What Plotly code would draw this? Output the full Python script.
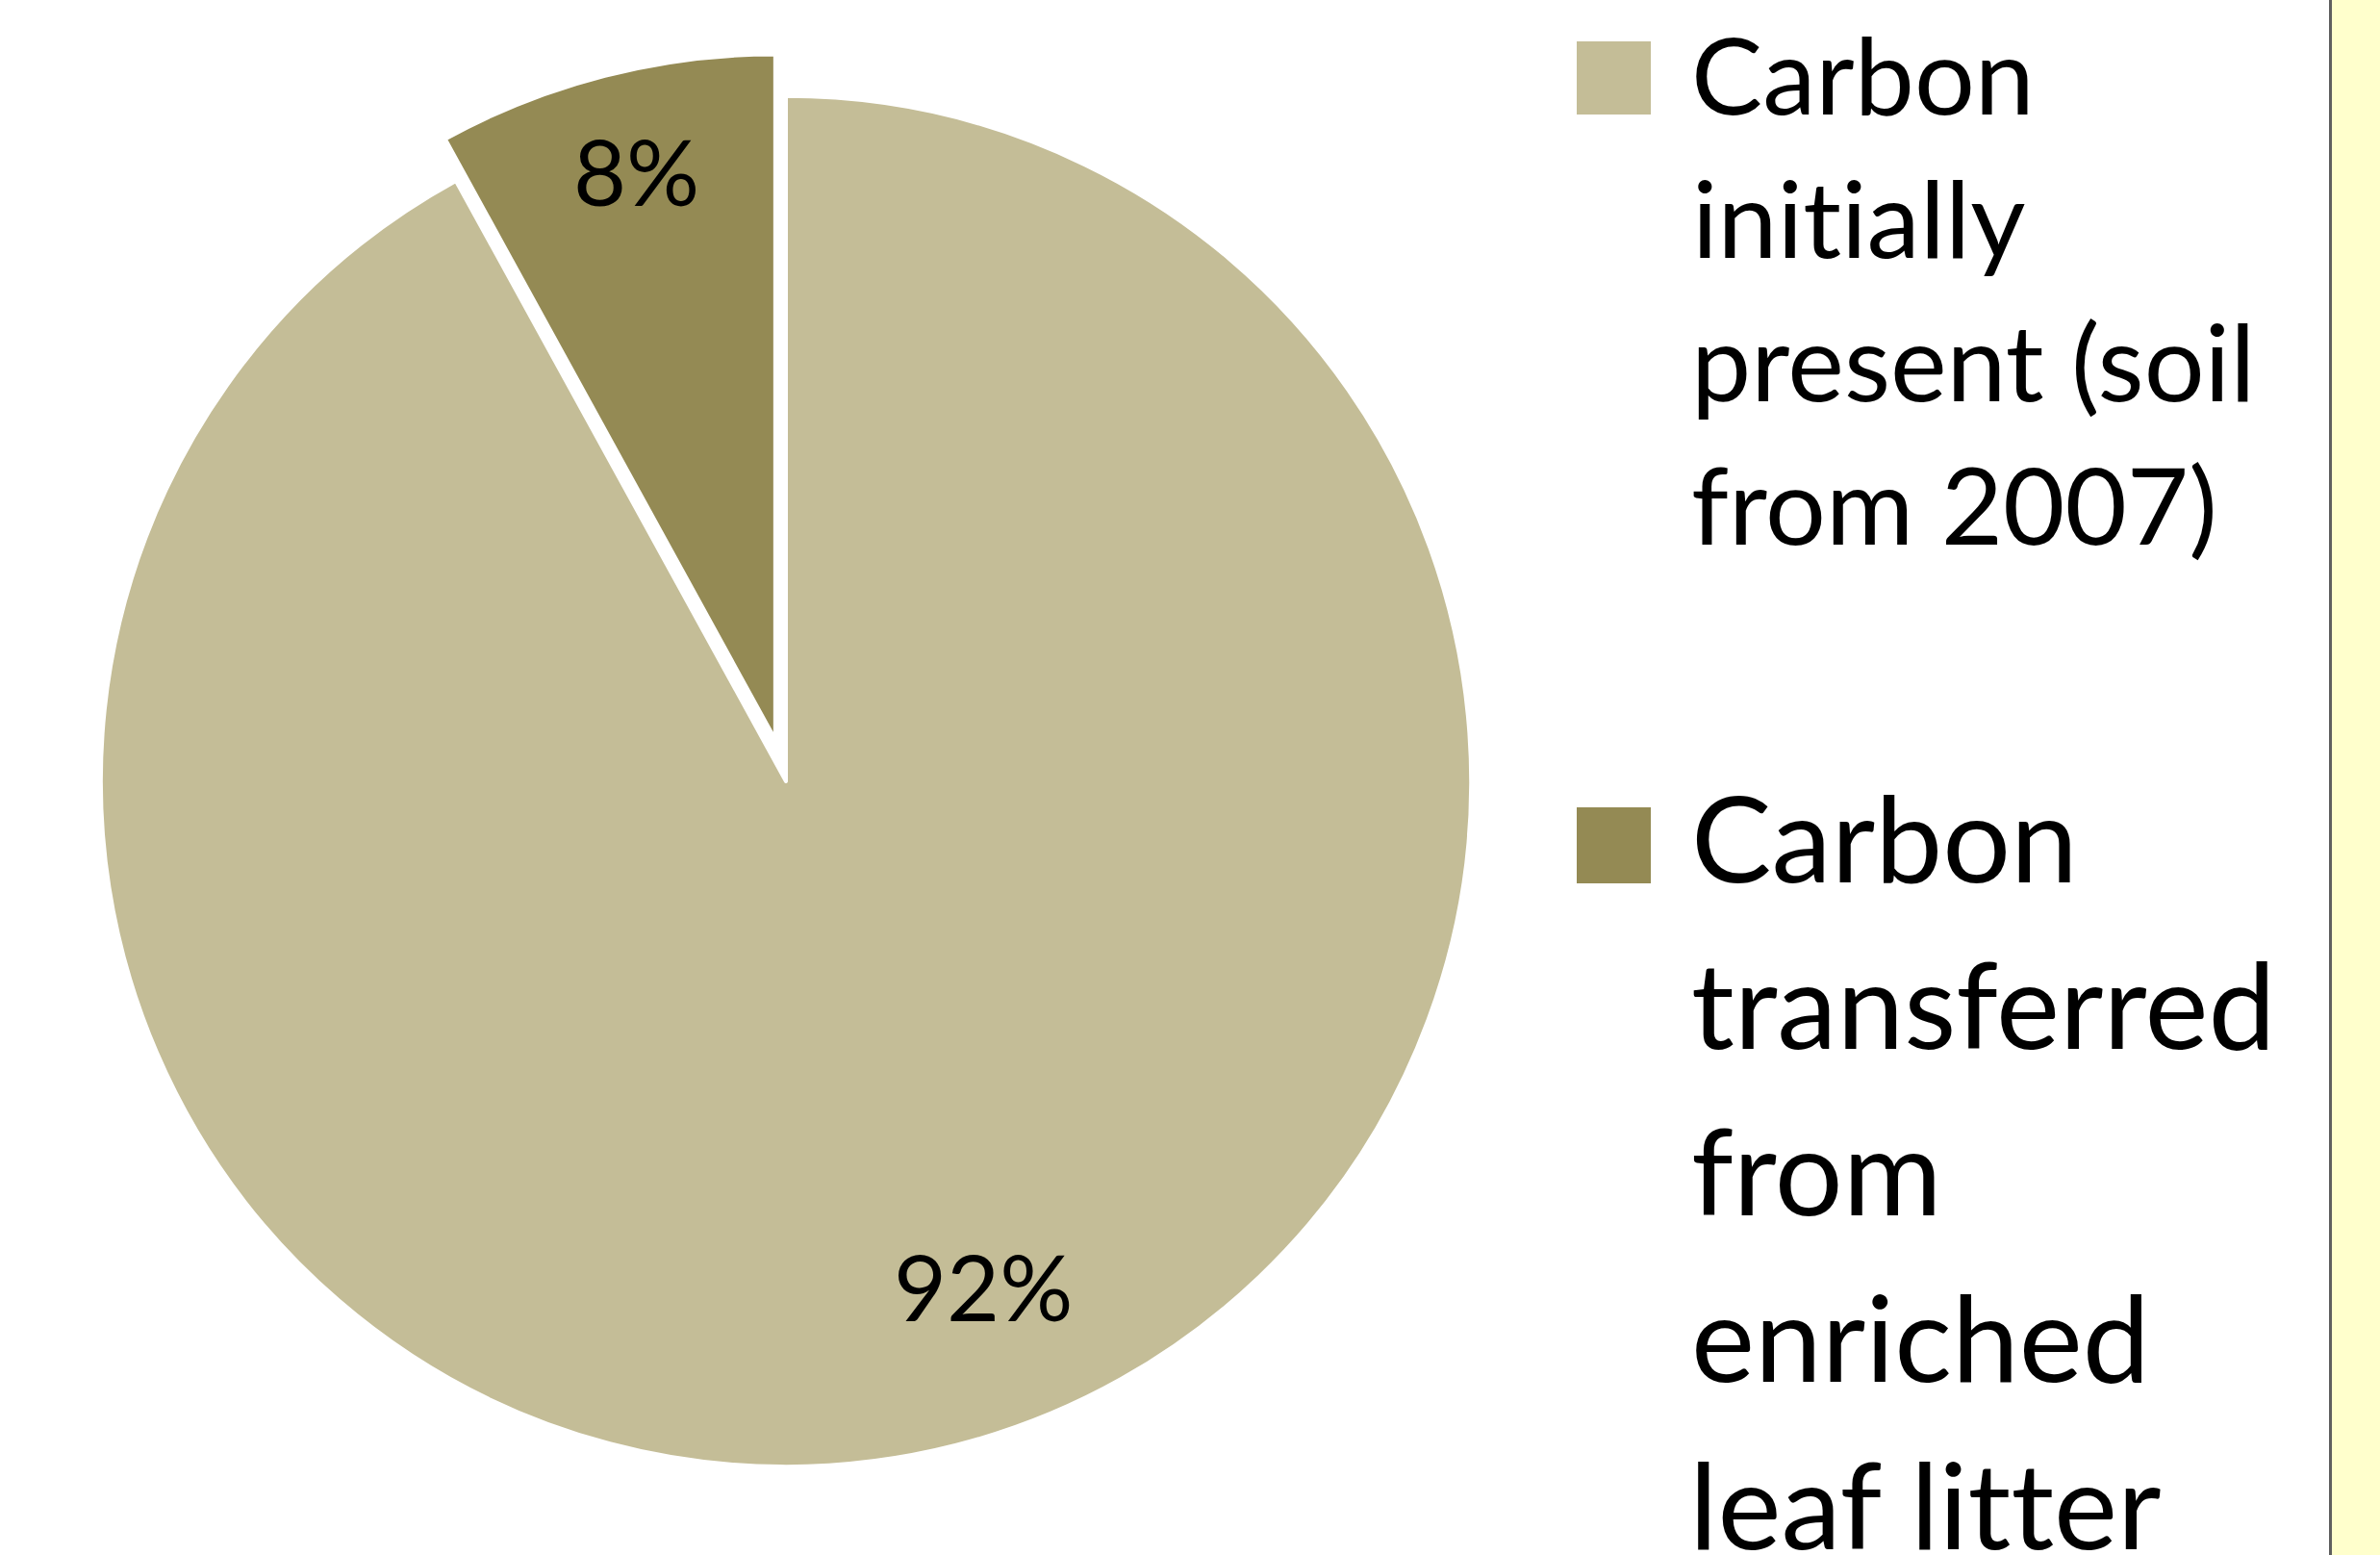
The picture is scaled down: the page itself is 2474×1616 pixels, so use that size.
import plotly.graph_objects as go

# ---- data ----
labels = ["Carbon initially present (soil from 2007)",
          "Carbon transferred from enriched leaf litter"]
legend_lines = [["Carbon", "initially", "present (soil", "from 2007)"],
                ["Carbon", "transferred", "from", "enriched", "leaf litter"]]
values = [92, 8]
colors = ["#C4BD97", "#948A54"]
pulls = [0, 0.063]

W, H = 2474, 1616
FONT = "Lato"

fig = go.Figure()
fig.add_trace(go.Pie(
    labels=labels,
    values=values,
    pull=pulls,
    sort=False,
    direction="clockwise",
    rotation=0,
    marker=dict(colors=colors, line=dict(color="white", width=4)),
    textinfo="none",
    domain=dict(x=[60 / W, 1574 / W], y=[47 / H, 1561 / H]),
    showlegend=False,
    hoverinfo="label+percent",
))

shapes = []
annotations = []

# percentage labels (text computed from the values), placed like the original
total = sum(values)
label_pos = [(1022, 1336), (661, 177)]  # pixel centres (x, y from top)
for v, (px, py) in zip(values, label_pos):
    annotations.append(dict(text=f"{round(100 * v / total)}%",
                            xref="paper", yref="paper",
                            x=px / W, y=1 - py / H,
                            xanchor="center", yanchor="middle",
                            showarrow=False,
                            font=dict(family=FONT, size=95, color="black")))

# legend blocks: (square top, square bottom, first baseline, line spacing, font size)
blocks = [(43, 119, 119, 149, 111), (839, 918, 917, 173.25, 125)]
for i, (sq_t, sq_b, base0, step, fs) in enumerate(blocks):
    shapes.append(dict(type="rect", xref="paper", yref="paper",
                       x0=1639 / W, x1=1716 / W,
                       y0=1 - sq_b / H, y1=1 - sq_t / H,
                       fillcolor=colors[i], line=dict(width=0)))
    for j, line in enumerate(legend_lines[i]):
        base = base0 + j * step
        ymid = base - 0.387 * fs
        annotations.append(dict(text=line, xref="paper", yref="paper",
                                x=1756 / W, y=1 - ymid / H,
                                xanchor="left", yanchor="middle",
                                showarrow=False,
                                font=dict(family=FONT, size=fs, color="black")))

# right-hand pale yellow strip with grey border line
shapes.append(dict(type="rect", xref="paper", yref="paper",
                   x0=2424 / W, x1=1, y0=0, y1=1,
                   fillcolor="#FFFFCC", line=dict(width=0)))
shapes.append(dict(type="rect", xref="paper", yref="paper",
                   x0=2421 / W, x1=2424 / W, y0=0, y1=1,
                   fillcolor="#5F5F5F", line=dict(width=0)))

fig.update_layout(
    width=W, height=H,
    margin=dict(l=0, r=0, t=0, b=0),
    paper_bgcolor="white",
    plot_bgcolor="white",
    shapes=shapes,
    annotations=annotations,
    font=dict(family=FONT),
)

no_ligatures = ("var s=document.createElement('style');"
                "s.innerHTML='text{font-variant-ligatures:none !important;}';"
                "document.head.appendChild(s);")
fig.write_html("out.html", post_script=no_ligatures)
